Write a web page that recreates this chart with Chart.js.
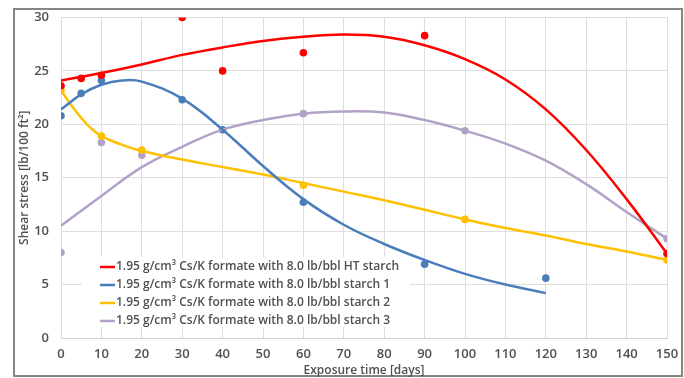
<!DOCTYPE html>
<html>
<head>
<meta charset="utf-8">
<script src="https://cdn.jsdelivr.net/npm/chart.js@4.4.1/dist/chart.umd.min.js"></script>
<style>
  html, body { margin: 0; padding: 0; background: #fff; }
  #wrap { width: 684px; height: 378px; position: relative; }
</style>
</head>
<body>
<div id="wrap"><canvas id="shear-chart" width="684" height="378"></canvas></div>
<script>
// measured points
const htX = [0, 5, 10, 30, 40, 60, 90, 150];
const htY = [23.6, 24.3, 24.6, 30.0, 25.0, 26.7, 28.3, 7.9];
const s1X = [0, 5, 10, 30, 40, 60, 90, 120];
const s1Y = [20.8, 22.9, 24.1, 22.3, 19.5, 12.7, 6.9, 5.6];
const s2X = [0, 10, 20, 60, 100, 150];
const s2Y = [23.2, 18.9, 17.6, 14.3, 11.1, 7.3];
const s3X = [0, 10, 20, 60, 100, 150];
const s3Y = [8.0, 18.3, 17.1, 21.0, 19.4, 9.3];

// trend lines
const htTrendX = [0, 10, 20, 30, 40, 50, 60, 70, 80, 90, 100, 110, 120, 130, 140, 150];
const htTrendY = [24.1, 24.8, 25.6, 26.5, 27.2, 27.8, 28.2, 28.4, 28.2, 27.4, 26.1, 24.2, 21.4, 17.6, 13.0, 7.9];
const s1TrendX = [0, 5, 10, 15, 20, 30, 40, 50, 60, 70, 80, 90, 100, 110, 120];
const s1TrendY = [21.4, 22.8, 23.7, 24.1, 24.0, 22.4, 19.5, 16.1, 13.0, 10.6, 8.8, 7.3, 6.0, 5.0, 4.2];
const s2TrendX = [0, 2.5, 5, 7.5, 10, 15, 20, 30, 40, 50, 60, 70, 80, 90, 100, 110, 120, 130, 140, 150];
const s2TrendY = [23.2, 21.8, 20.6, 19.6, 18.9, 18.1, 17.5, 16.7, 16.0, 15.3, 14.5, 13.7, 12.9, 12.0, 11.1, 10.3, 9.6, 8.8, 8.1, 7.3];
const s3TrendX = [0, 10, 20, 30, 40, 50, 60, 70, 80, 90, 100, 110, 120, 130, 140, 150];
const s3TrendY = [10.5, 13.3, 16.0, 17.9, 19.5, 20.4, 21.0, 21.2, 21.1, 20.4, 19.4, 18.2, 16.6, 14.4, 11.8, 9.3];

const labels = [
    "1.95 g/cm³ Cs/K formate with 8.0 lb/bbl HT starch",
    "1.95 g/cm³ Cs/K formate with 8.0 lb/bbl starch 1",
    "1.95 g/cm³ Cs/K formate with 8.0 lb/bbl starch 2",
    "1.95 g/cm³ Cs/K formate with 8.0 lb/bbl starch 3"
];
const colors = ["#ff0000", "#4a7ebb", "#ffc000", "#b3a2c7"];

const toPoints = (xs, ys) => xs.map((x, i) => ({x: x, y: ys[i]}));

const trends = [[htTrendX, htTrendY], [s1TrendX, s1TrendY], [s2TrendX, s2TrendY], [s3TrendX, s3TrendY]];
const points = [[htX, htY], [s1X, s1Y], [s2X, s2Y], [s3X, s3Y]];

const datasets = [];
trends.forEach((t, i) => {
    datasets.push({
        label: labels[i],
        data: toPoints(t[0], t[1]),
        showLine: true,
        borderColor: colors[i],
        borderWidth: 2.5,
        pointRadius: 0,
        tension: 0.4,
        fill: false
    });
});
points.forEach((p, i) => {
    datasets.push({
        label: labels[i] + " data",
        data: toPoints(p[0], p[1]),
        showLine: false,
        backgroundColor: colors[i],
        borderColor: colors[i],
        pointRadius: 3.8,
        pointBorderWidth: 0
    });
});

const textColor = "#505050";
const fontFamily = "'Open Sans', sans-serif";

// frame round the whole chart
const framePlugin = {
    id: 'frame',
    beforeDraw(chart) {
        const c = chart.ctx;
        c.save();
        c.fillStyle = "#fff";
        c.fillRect(0, 0, chart.width, chart.height);
        c.strokeStyle = "#858585";
        c.lineWidth = 2;
        c.strokeRect(14, 9, 668, 367);
        c.restore();
    }
};

// legend sitting inside the plot area
const boxLegend = {
    id: 'boxLegend',
    beforeDatasetsDraw(chart) {
        const c = chart.ctx;
        c.save();
        c.fillStyle = "#fff";
        c.fillRect(82, 257, 328, 70);
        c.font = "600 12px " + fontFamily;
        c.textBaseline = "middle";
        c.fillStyle = textColor;
        const rows = [267, 285, 303, 321];
        labels.forEach((lab, i) => {
            c.strokeStyle = colors[i];
            c.lineWidth = 2.5;
            c.beginPath();
            c.moveTo(100, rows[i]);
            c.lineTo(115, rows[i]);
            c.stroke();
            c.fillText(lab, 116, rows[i]);
        });
        c.restore();
    }
};

const ctx = document.getElementById("shear-chart").getContext("2d");

new Chart(ctx, {
    type: "scatter",
    data: { datasets: datasets },
    plugins: [framePlugin, boxLegend],
    options: {
        responsive: false,
        animation: false,
        layout: { padding: { left: 0, right: 17, top: 17.5, bottom: 0 } },
        plugins: {
            legend: { display: false },
            tooltip: { enabled: false }
        },
        scales: {
            x: {
                type: "linear",
                min: 0,
                max: 150,
                afterFit: (scale) => {
                    scale.height = 40;
                    scale.paddingLeft = 0;
                    scale.paddingRight = 0;
                },
                ticks: {
                    stepSize: 10,
                    color: textColor,
                    font: { family: fontFamily, size: 13, weight: "600" },
                    padding: 8
                },
                grid: { color: "#dedede", drawTicks: false },
                border: { color: "#d0d0d0" },
                title: {
                    display: true,
                    text: "Exposure time [days]",
                    color: textColor,
                    font: { family: fontFamily, size: 12, weight: "600" },
                    padding: { top: 0, bottom: 0 }
                }
            },
            y: {
                min: 0,
                max: 30,
                afterFit: (scale) => {
                    scale.width = 61;
                    scale.paddingTop = 0;
                    scale.paddingBottom = 0;
                },
                ticks: {
                    stepSize: 5,
                    color: textColor,
                    font: { family: fontFamily, size: 13, weight: "600" },
                    padding: 12
                },
                grid: { color: "#dedede", drawTicks: false },
                border: { color: "#dedede" },
                title: {
                    display: true,
                    text: "Shear stress [lb/100 ft²]",
                    color: textColor,
                    font: { family: fontFamily, size: 12, weight: "600" },
                    padding: { top: 17, bottom: 0 }
                }
            }
        }
    }
});
</script>
</body>
</html>
